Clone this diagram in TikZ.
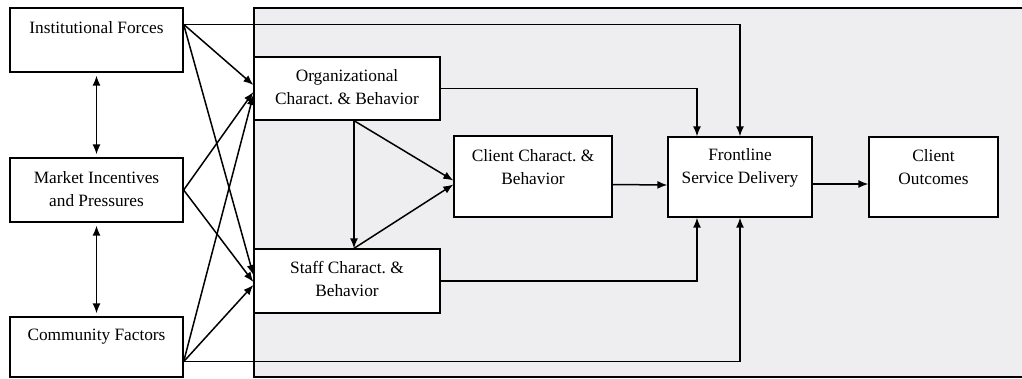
\documentclass[tikz,border=0pt]{standalone}
\usepackage{fontspec}
\setmainfont{Liberation Serif}
\usetikzlibrary{arrows.meta,calc,positioning}
\definecolor{panelgray}{RGB}{238,238,240}
\tikzset{
  box/.style={draw, fill=white, line width=1.3pt, inner sep=0pt},
  lbl/.style={align=center, font=\fontsize{17.3}{23}\selectfont},
  arr/.style={line width=1.5pt, -{Latex[length=10pt,width=8pt]}},
  dbl/.style={line width=1.5pt, {Latex[length=10pt,width=8pt]}-{Latex[length=10pt,width=8pt]},
    shorten <=3pt, shorten >=3pt}
}

\begin{document}
\begin{tikzpicture}[x=1pt,y=-1pt]
\useasboundingbox (0,0) rectangle (1022,378);
\fill [panelgray] (254,8) rectangle (1022,377);
\draw [line width=1.3pt] (1022,8) -- (254,8) -- (254,377) -- (1022,377);

\node [box, minimum width=173pt, minimum height=64pt,
  label={[lbl, yshift=12pt]center:Institutional Forces}] (inst) at (96.5,40) {};
\node [box, minimum width=173pt, minimum height=64pt,
  label={[lbl, yshift=1pt]center:Market Incentives\\and Pressures}] (market) at (96.5,190) {};
\node [box, minimum width=173pt, minimum height=60pt,
  label={[lbl, yshift=10pt]center:Community Factors}] (comm) at (96.5,347) {};
\node [box, minimum width=186pt, minimum height=63pt,
  label={[lbl, yshift=1.5pt]center:Organizational\\Charact.\ \& Behavior}] (org) at (347,88.5) {};
\node [box, minimum width=186pt, minimum height=64pt,
  label={[lbl, yshift=2pt]center:Staff Charact.\ \&\\Behavior}] (staff) at (347,281) {};
\node [box, minimum width=158pt, minimum height=81pt,
  label={[lbl, yshift=9pt]center:Client Charact.\ \&\\Behavior}] (client) at (533,176.5) {};
\node [box, minimum width=144pt, minimum height=80pt,
  label={[lbl, yshift=9.5pt]center:Frontline\\Service Delivery}] (front) at (740,177) {};
\node [box, minimum width=129pt, minimum height=80pt,
  label={[lbl, yshift=9.5pt]center:Client\\Outcomes}] (outc) at (933.5,177) {};

\coordinate (instout) at ([yshift=-17pt]inst.north east);
\coordinate (commout) at ([yshift=16pt]comm.south east);

\draw [dbl] (inst.south) -- (market.north);
\draw [dbl] (market.south) -- (comm.north);

\draw [arr] (instout) -- ([yshift=3.5pt]org.west);
\draw [arr] (market.east) -- ([yshift=-3.5pt]org.west);
\draw [arr] (commout) -- ([yshift=-6.5pt]org.west);
\draw [arr] (instout) -- ([yshift=6pt]staff.west);
\draw [arr] (market.east) -- ([yshift=-1pt]staff.west);
\draw [arr] (commout) -- ([yshift=-4pt]staff.west);

\draw [arr] (instout) -| (front.north);
\draw [arr] (org.east) -| ([xshift=-43pt]front.north);
\draw [arr] (staff.east) -| ([xshift=-43pt]front.south);
\draw [arr] (commout) -| (front.south);

\draw [arr] ([xshift=7pt]org.south) -- ([xshift=7pt]staff.north);
\draw [arr] ([xshift=7pt]org.south) -- ([yshift=-4pt]client.west);
\draw [arr] ([xshift=7pt]staff.north) -- ([yshift=-8pt]client.west);
\draw [arr] ([yshift=-8pt]client.east) -- ([yshift=-8pt]front.west);
\draw [arr] ([yshift=-7pt]front.east) -- ([yshift=-7pt]outc.west);
\end{tikzpicture}
\end{document}
